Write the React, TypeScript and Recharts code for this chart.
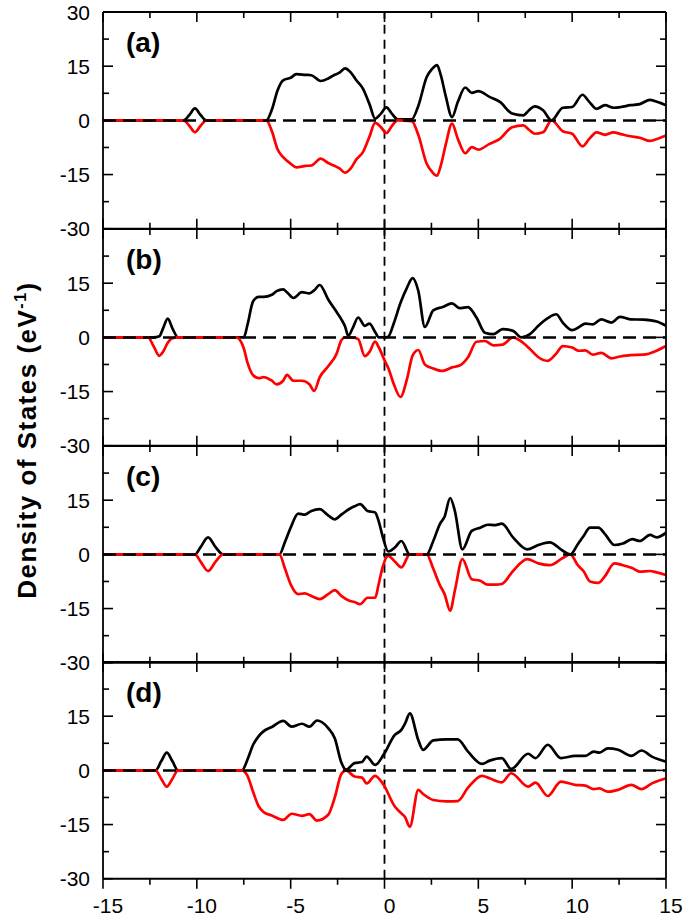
import React from "react";
import { LineChart, Line, XAxis, YAxis, ReferenceLine } from "recharts";

// energy grid (eV) and spin-up / spin-down DOS for each panel
const energyA = [
  -15, -10.7, -10.4, -10.1, -9.8, -9.5, -6.3, -6.0, -5.7, -5.4,
  -5.0, -4.7, -4.2, -3.9, -3.4, -3.0, -2.7, -2.4, -2.1, -1.8,
  -1.5, -1.15, -0.8, -0.5, -0.2, 0.1, 0.4, 0.7, 1.45, 1.8,
  2.25, 2.5, 2.8, 3.0, 3.25, 3.6, 3.9, 4.3, 4.65, 5.0,
  5.6, 6.15, 6.8, 7.4, 7.7, 8.0, 8.45, 8.9, 9.5, 10.0,
  10.55, 10.9, 11.3, 11.75, 12.2, 12.6, 13.1, 13.6, 14.15, 14.6, 15,
];
const upA = [
  0, 0, 1.5, 3.3, 1.5, 0, 0, 3, 8.3, 11.1,
  11.8, 12.8, 12.6, 12.5, 10.9, 11.6, 12.5, 13.2, 14.4, 13.3,
  11.1, 8.8, 4.5, 0.5, 1.8, 3.6, 1.8, 0.3, 0.3, 4,
  12, 14, 15.3, 12.5, 7, 0.9, 5, 9.1, 7.6, 8.1,
  6.5, 5.1, 1.9, 1.4, 2.8, 3.9, 2.8, 0, 3.5, 3.7,
  7.1, 5.2, 3.2, 4.2, 3.5, 3.7, 4.2, 4.5, 5.7, 5.0, 4.2,
];
const downA = [
  0, 0, -1.5, -3.3, -1.5, 0, 0, -3, -8, -10.2,
  -12, -13, -12.6, -12.5, -10.6, -11.8, -12.5, -13.3, -14.5, -13.3,
  -10.8, -8.8, -4.5, -0.7, -1.8, -3.5, -1.5, 0, -0.2, -4,
  -12, -14, -15.3, -12.5, -7, -0.9, -5, -9.1, -7.4, -8.1,
  -6.5, -5.1, -1.9, -1.4, -2.6, -3.7, -3.3, 0, -3, -3.7,
  -7.2, -5.2, -3.3, -4.0, -3.3, -3.8, -4.4, -4.8, -5.7, -5.0, -4.2,
];

const energyB = [
  -15, -12.6, -12.3, -12.0, -11.8, -11.55, -11.3, -11.0, -7.9, -7.5,
  -7.3, -7.0, -6.7, -6.45, -6.0, -5.75, -5.4, -5.2, -4.85, -4.4,
  -4.0, -3.75, -3.45, -3.0, -2.55, -2.3, -2.1, -1.93, -1.7, -1.4,
  -1.05, -0.8, -0.5, -0.3, 0.0, 0.2, 0.5, 0.85, 1.2, 1.5,
  1.8, 2.15, 2.6, 3.1, 3.6, 4.0, 4.45, 4.9, 5.35, 5.8,
  6.3, 6.85, 7.3, 7.75, 8.2, 8.7, 9.15, 9.5, 10.0, 10.35,
  10.7, 11.1, 11.55, 12.1, 12.55, 13.1, 13.8, 14.5, 15,
];
const upB = [
  0, 0, 0, 0.3, 2.5, 5.2, 2.5, 0, 0, 0,
  3.5, 10, 11.2, 11.2, 11.8, 12.8, 13.3, 12.5, 10.9, 12.5,
  12.2, 13, 14.5, 10.5, 7.0, 5.0, 3.0, 0.4, 2.5, 5.5,
  3.2, 3.8, 1.5, 0, 0, 0.2, 4, 9.5, 13.8, 16.4,
  12.9, 2.9, 7.5, 8.4, 9.4, 8.1, 8.4, 5.5, 1.3, 0.9,
  2.3, 1.8, 0, 0.9, 3.2, 5.3, 6.4, 4.1, 2.0, 2.8,
  3.8, 3.6, 5.0, 4.1, 5.7, 5.0, 4.9, 4.4, 3.2,
];
const downB = [
  0, 0, -2.5, -5.1, -4, -1.5, -0.2, 0, 0, -3,
  -7, -10.5, -11.3, -11, -12, -13, -12, -10.4, -12, -12,
  -13, -14.8, -11, -8, -4.5, -0.8, 0, 0, 0, -0.5,
  -5.2, -4, -1.2, -2.8, -6.3, -8.5, -13, -16.5, -11.5, -5,
  -3.5, -7.5, -8.6, -9.3, -8.3, -7.8, -5.5, -1.2, -1.0, -2.2,
  -2.0, 0, -1.2, -3.2, -5.5, -6.5, -4.5, -2.4, -2.8, -3.7,
  -3.6, -4.8, -4.3, -5.8, -5.3, -4.9, -4.8, -3.7, -2.4,
];

const energyC = [
  -15, -10.1, -9.8, -9.4, -9.0, -8.6, -5.6, -5.3, -5.0, -4.6,
  -4.25, -3.9, -3.45, -3.0, -2.65, -2.3, -1.9, -1.6, -1.3, -0.9,
  -0.5, -0.3, -0.1, 0.2, 0.55, 0.9, 1.35, 2.25, 2.6, 2.95,
  3.2, 3.5, 3.75, 4.15, 4.65, 5.1, 5.5, 5.9, 6.25, 6.85,
  7.6, 8.2, 8.8, 9.5, 9.9, 10.3, 10.6, 10.95, 11.4, 11.75,
  12.25, 12.7, 13.2, 13.6, 14.15, 14.5, 15,
];
const upC = [
  0, 0, 2, 4.7, 2, 0, 0, 3.5, 7.4, 11.3,
  11.0, 12, 12.5, 10.8, 9.7, 11, 12.5, 13.3, 13.9, 12.0,
  11.6, 9, 5, 0.8, 1.9, 3.7, 0, 0, 3.7, 8.4,
  10.4, 15.6, 12, 1.4, 6.5, 7.4, 8.2, 8.1, 8.5, 4.7,
  1.4, 2.6, 3.3, 1.0, 0, 2.8, 5, 7.4, 7.4, 5.6,
  2.6, 3.0, 4.2, 3.7, 5.4, 4.7, 6.0,
];
const downC = [
  0, 0, -2, -4.6, -2, 0, 0, -4, -8.3, -11,
  -10.8, -11.5, -12.4, -11, -9.9, -11.5, -12.8, -13.2, -13.8, -12,
  -12, -8, -3.5, -0.4, -2, -3.6, 0, 0, -4, -8.5,
  -11, -15.6, -10, -1.3, -6.9, -7.3, -8.4, -8.4, -8.2, -4.6,
  -1.3, -2.5, -3.0, -1.0, 0, -3, -4.6, -7.5, -7.9, -6,
  -2.5, -3.0, -3.8, -4.8, -4.6, -5, -5.7,
];

const energyD = [
  -15, -12.2, -11.9, -11.6, -11.3, -11.0, -7.6, -7.3, -7.0, -6.7,
  -6.45, -6.0, -5.4, -4.95, -4.4, -4.0, -3.6, -3.0, -2.65, -2.3,
  -2.05, -1.6, -1.2, -0.95, -0.5, -0.05, 0.55, 0.9, 1.1, 1.35,
  1.8, 2.05, 2.6, 3.3, 3.9, 4.45, 5.2, 5.6, 6.25, 6.75,
  7.65, 8.05, 8.7, 9.4, 10.15, 10.7, 11.15, 11.45, 11.9, 12.45,
  13.15, 13.7, 14.25, 15,
];
const upD = [
  0, 0, 2.5, 4.9, 2.5, 0, 0, 3, 7.1, 9.5,
  10.8, 12, 13.7, 12.1, 12.9, 12.1, 13.8, 11.7, 8.9, 2.2,
  0.2, 2.0, 2.3, 3.8, 1.5, 4.3, 9.8, 11.2, 13, 15.8,
  8.4, 5.7, 8.3, 8.6, 8.6, 5.2, 1.8, 2.7, 3.4, 0.4,
  4.6, 3.4, 7.1, 3.4, 4.0, 4.0, 5.2, 4.9, 6.1, 5.7,
  4.0, 5.5, 3.8, 2.4,
];
const downD = [
  0, 0, -2.3, -4.5, -2.3, 0, 0, -1.5, -6, -10,
  -11.5, -12.5, -13.7, -12, -12.6, -12.1, -13.9, -12.3, -7.5, -1,
  0, -1.7, -2, -3.6, -1.5, -4.0, -10, -11.9, -13, -15.6,
  -5.4, -6.5, -8.2, -8.6, -8.5, -4.8, -1.5, -2.2, -3.3, -0.8,
  -4.5, -3.4, -7.1, -3.1, -4.0, -4.2, -5.2, -5.0, -5.9, -5.4,
  -4.0, -5.2, -3.6, -2.2,
];

const xTicks = [-15, -12.5, -10, -7.5, -5, -2.5, 0, 2.5, 5, 7.5, 10, 12.5, 15];
const yTicks = [-30, -22.5, -15, -7.5, 0, 7.5, 15, 22.5, 30];
const panelLabels = ["(a)", "(b)", "(c)", "(d)"];

const FONT = "'Liberation Sans', Arial, sans-serif";
const W = 685;
const PLOT_TOP = 12;
const PLOT_H = 216.75;
const LEFT = 103;
const RIGHT = 19;

function xTick(dir: number, withLabel: boolean) {
  return (props: any) => {
    const { x, y, payload } = props;
    const v = payload.value;
    const major = v % 5 === 0;
    const len = major ? 10 : 6;
    return (
      <g>
        <line x1={x} x2={x} y1={y} y2={y + dir * len} stroke="#000" strokeWidth={1.6} />
        {withLabel && major && (
          <text x={x + 5} y={y + 34} textAnchor="middle" fontSize={21} fontFamily={FONT} fill="#000">
            {v}
          </text>
        )}
      </g>
    );
  };
}

function yTick(dir: number, withLabel: boolean, first: boolean) {
  return (props: any) => {
    const { x, y, payload } = props;
    const v = payload.value;
    const major = v % 15 === 0;
    const len = major ? 10 : 6;
    const show = withLabel && major && (first || v !== 30);
    return (
      <g>
        <line x1={x} x2={x + dir * len} y1={y} y2={y} stroke="#000" strokeWidth={1.6} />
        {show && (
          <text x={x - 13} y={y} dy="0.36em" textAnchor="end" fontSize={21} fontFamily={FONT} fill="#000">
            {v}
          </text>
        )}
      </g>
    );
  };
}

type PanelProps = { energy: number[]; up: number[]; down: number[]; index: number };

function Panel({ energy, up, down, index }: PanelProps) {
  const last = index === 3;
  const first = index === 0;
  const rows = energy.map((e, i) => ({ e, up: up[i], down: down[i] }));
  const bottom = last ? 37 : 12;
  const top = PLOT_TOP + index * PLOT_H - 12;
  const axis = { stroke: "#000", strokeWidth: 1.8 };
  return (
    <div style={{ position: "absolute", left: 0, top }}>
      <LineChart
        width={W}
        height={12 + PLOT_H + bottom}
        data={rows}
        margin={{ top: 11, right: RIGHT - 1, bottom: bottom - 1, left: LEFT - 1 }}
      >
        <XAxis
          xAxisId="bot"
          dataKey="e"
          type="number"
          domain={[-15, 15]}
          ticks={xTicks}
          interval={0}
          height={1}
          tickSize={0}
          tickMargin={0}
          tickLine={false}
          axisLine={axis}
          tick={xTick(last ? 1 : -1, last)}
          allowDataOverflow
        />
        <XAxis
          xAxisId="top"
          orientation="top"
          dataKey="e"
          type="number"
          domain={[-15, 15]}
          ticks={xTicks}
          interval={0}
          height={1}
          tickSize={0}
          tickMargin={0}
          tickLine={false}
          axisLine={axis}
          tick={xTick(1, false)}
          allowDataOverflow
        />
        <YAxis
          yAxisId="left"
          type="number"
          domain={[-30, 30]}
          ticks={yTicks}
          interval={0}
          width={1}
          tickSize={0}
          tickMargin={0}
          tickLine={false}
          axisLine={axis}
          tick={yTick(1, true, first)}
          allowDataOverflow
        />
        <YAxis
          yAxisId="right"
          orientation="right"
          type="number"
          domain={[-30, 30]}
          ticks={yTicks}
          interval={0}
          width={1}
          tickSize={0}
          tickMargin={0}
          tickLine={false}
          axisLine={axis}
          tick={yTick(-1, false, false)}
          allowDataOverflow
        />
        <ReferenceLine xAxisId="bot" yAxisId="left" x={0} stroke="#000" strokeWidth={1.8} strokeDasharray="9 6" />
        <Line
          xAxisId="bot"
          yAxisId="left"
          dataKey="up"
          type="monotone"
          stroke="#000"
          strokeWidth={2.7}
          dot={false}
          isAnimationActive={false}
        />
        <Line
          xAxisId="bot"
          yAxisId="left"
          dataKey="down"
          type="monotone"
          stroke="#ff0000"
          strokeWidth={2.7}
          dot={false}
          isAnimationActive={false}
        />
        <ReferenceLine xAxisId="bot" yAxisId="left" y={0} stroke="#000" strokeWidth={2.5} strokeDasharray="13 7" />
      </LineChart>
    </div>
  );
}

export default function App() {
  const panels = [
    { energy: energyA, up: upA, down: downA },
    { energy: energyB, up: upB, down: downB },
    { energy: energyC, up: upC, down: downC },
    { energy: energyD, up: upD, down: downD },
  ];
  return (
    <div style={{ position: "absolute", left: 0, top: 0, width: W, height: 916, background: "#fff", overflow: "hidden" }}>
      {panels.map((p, i) => (
        <Panel key={i} index={i} {...p} />
      ))}
      <svg width={W} height={916} style={{ position: "absolute", left: 0, top: 0, pointerEvents: "none" }}>
        <text
          transform="translate(36,440) rotate(-90)"
          textAnchor="middle"
          fontSize={26}
          fontWeight="bold"
          fontFamily={FONT}
          letterSpacing={1.5}
          fill="#000"
        >
          Density of States (eV
          <tspan dy={-10} fontSize={16}>-1</tspan>
          <tspan dy={10}>)</tspan>
        </text>
        {panelLabels.map((t, i) => (
          <text
            key={t}
            x={126}
            y={PLOT_TOP + i * PLOT_H + 40}
            fontSize={28}
            fontWeight="bold"
            fontFamily={FONT}
            fill="#000"
          >
            {t}
          </text>
        ))}
      </svg>
    </div>
  );
}
